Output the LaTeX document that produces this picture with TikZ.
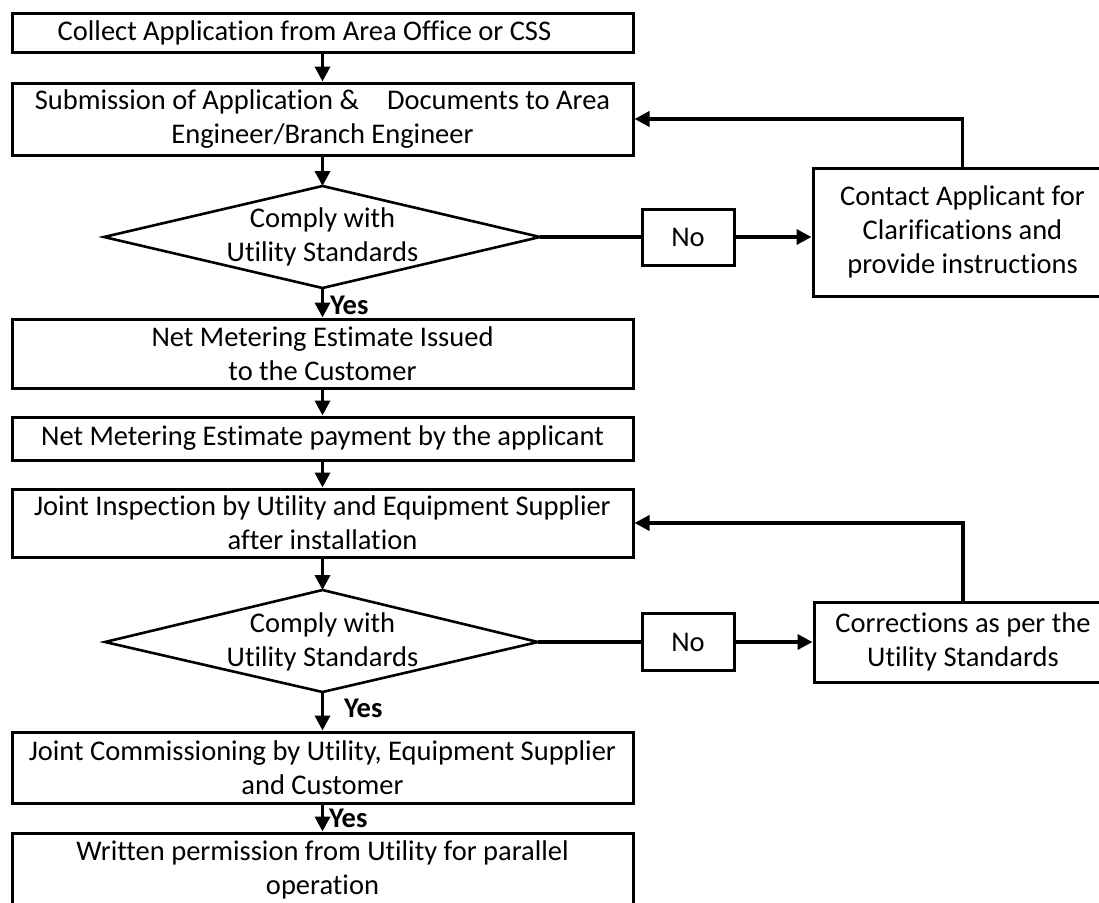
\documentclass[tikz,border=0pt]{standalone}
\usepackage{fontspec}
\setmainfont{Carlito}[Ligatures=NoCommon]
\usetikzlibrary{arrows.meta}
\newcommand\flowfont{\fontsize{28.5}{34}\selectfont}
\begin{document}
\begin{tikzpicture}[x=1pt,y=-1pt,
  box/.style={draw, line width=3pt, minimum width=621pt, inner sep=0pt, align=center, font=\flowfont},
  sidebox/.style={draw, line width=3pt, inner sep=0pt, align=center, font=\flowfont},
  txt/.style={inner sep=0pt, align=center, font=\flowfont},
  yes/.style={inner sep=0pt, anchor=west, font=\flowfont\bfseries},
  dia/.style={draw, line width=2.6pt, line join=miter},
  conn/.style={line width=3.5pt, -{Triangle[length=15pt,width=15pt]}},
  plain/.style={line width=3.5pt}
]
\useasboundingbox (0,0) rectangle (1099,902);
\clip (0,0) rectangle (1099,902);
\fill[white] (0,0) rectangle (1099,902);

% main column boxes
\node[box, minimum height=39pt] (b1) at (322.5,32.5) {Collect Application from Area Office or CSS\hspace{36pt}};
\node[box, minimum height=72pt] (b2) at (322.5,119) {Submission of Application \&\hspace{28pt}Documents to Area\\Engineer/Branch Engineer};
\node[box, minimum height=69pt] (b3) at (322.5,353.5) {Net Metering Estimate Issued\\to the Customer};
\node[box, minimum height=43pt] (b4) at (322.5,438.5) {Net Metering Estimate payment by the applicant};
\node[box, minimum height=68pt] (b5) at (322.5,523) {Joint Inspection by Utility and Equipment Supplier\\after installation};
\node[box, minimum height=71pt] (b6) at (322.5,767.5) {Joint Commissioning by Utility, Equipment Supplier\\and Customer};
\node[box, minimum height=74pt] (b7) at (322.5,870) {Written permission from Utility for parallel\\operation};

% decision 1
\coordinate (d1t) at (322.5,186);
\coordinate (d1r) at (540,237);
\coordinate (d1b) at (322.5,288);
\coordinate (d1l) at (104,237);
\draw[dia] (d1t) -- (d1r) -- (d1b) -- (d1l) -- cycle;
\node[txt] (d1) at (322.5,237) {Comply with\\Utility Standards};

% decision 2
\coordinate (d2t) at (322.5,590);
\coordinate (d2r) at (538,642);
\coordinate (d2b) at (322.5,692);
\coordinate (d2l) at (105,642);
\draw[dia] (d2t) -- (d2r) -- (d2b) -- (d2l) -- cycle;
\node[txt] (d2) at (322.5,642) {Comply with\\Utility Standards};

% No boxes and side boxes
\node[sidebox, minimum width=92pt, minimum height=56pt] (no1) at (688,237) {No};
\node[sidebox, minimum width=92pt, minimum height=57pt] (no2) at (688,642) {No};
\node[sidebox, minimum width=299pt, minimum height=128pt] (c1) at (962.5,232) {Contact Applicant for\\Clarifications and\\provide instructions};
\node[sidebox, minimum width=298pt, minimum height=80pt] (c2) at (963,642) {Corrections as per the\\Utility Standards};

% main flow connectors
\draw[conn] (b1.south) -- (b2.north);
\draw[conn] (b2.south) -- (d1t);
\draw[conn] (d1b) -- (b3.north);
\draw[conn] (b3.south) -- (b4.north);
\draw[conn] (b4.south) -- (b5.north);
\draw[conn] (b5.south) -- (d2t);
\draw[conn] (d2b) -- (b6.north);
\draw[conn] (b6.south) -- (b7.north);

\node[yes] (y1) at (330,305) {Yes};
\node[yes] (y2) at (344,708) {Yes};
\node[yes] (y3) at (329,818) {Yes};

% No branches
\draw[plain] (d1r) -- (no1.west);
\draw[conn] (no1.east) -- (no1.east -| c1.west);
\draw[plain] (d2r) -- (no2.west);
\draw[conn] (no2.east) -- (no2.east -| c2.west);

% feedback loops
\draw[conn] (c1.north) |- (b2.east);
\draw[conn] (c2.north) |- (b5.east);
\end{tikzpicture}
\end{document}
